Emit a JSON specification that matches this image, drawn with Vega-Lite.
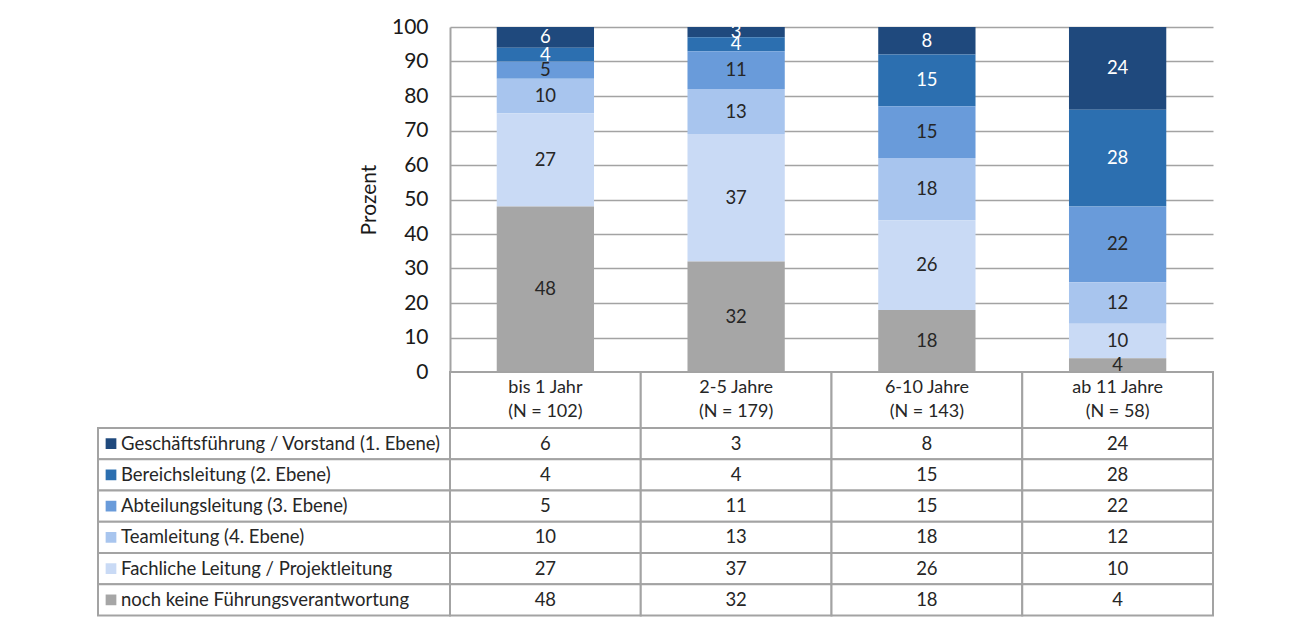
{
  "$schema": "https://vega.github.io/schema/vega-lite/v6.json",
  "padding": {"left": 97, "top": 16, "right": 5, "bottom": 2},
  "background": "white",
  "datasets": {
    "gruppen": [
      {"Gruppe": "bis 1 Jahr", "N": 102},
      {"Gruppe": "2-5 Jahre", "N": 179},
      {"Gruppe": "6-10 Jahre", "N": 143},
      {"Gruppe": "ab 11 Jahre", "N": 58}
    ],
    "ebenen": [
      {"Ebene": "Geschäftsführung / Vorstand (1. Ebene)", "Stufe": 1},
      {"Ebene": "Bereichsleitung (2. Ebene)", "Stufe": 2},
      {"Ebene": "Abteilungsleitung (3. Ebene)", "Stufe": 3},
      {"Ebene": "Teamleitung (4. Ebene)", "Stufe": 4},
      {"Ebene": "Fachliche Leitung / Projektleitung", "Stufe": 5},
      {"Ebene": "noch keine Führungsverantwortung", "Stufe": 6}
    ],
    "werte": [
      {"Gruppe": "bis 1 Jahr", "Ebene": "Geschäftsführung / Vorstand (1. Ebene)", "Stufe": 1, "Prozent": 6},
      {"Gruppe": "bis 1 Jahr", "Ebene": "Bereichsleitung (2. Ebene)", "Stufe": 2, "Prozent": 4},
      {"Gruppe": "bis 1 Jahr", "Ebene": "Abteilungsleitung (3. Ebene)", "Stufe": 3, "Prozent": 5},
      {"Gruppe": "bis 1 Jahr", "Ebene": "Teamleitung (4. Ebene)", "Stufe": 4, "Prozent": 10},
      {"Gruppe": "bis 1 Jahr", "Ebene": "Fachliche Leitung / Projektleitung", "Stufe": 5, "Prozent": 27},
      {"Gruppe": "bis 1 Jahr", "Ebene": "noch keine Führungsverantwortung", "Stufe": 6, "Prozent": 48},
      {"Gruppe": "2-5 Jahre", "Ebene": "Geschäftsführung / Vorstand (1. Ebene)", "Stufe": 1, "Prozent": 3},
      {"Gruppe": "2-5 Jahre", "Ebene": "Bereichsleitung (2. Ebene)", "Stufe": 2, "Prozent": 4},
      {"Gruppe": "2-5 Jahre", "Ebene": "Abteilungsleitung (3. Ebene)", "Stufe": 3, "Prozent": 11},
      {"Gruppe": "2-5 Jahre", "Ebene": "Teamleitung (4. Ebene)", "Stufe": 4, "Prozent": 13},
      {"Gruppe": "2-5 Jahre", "Ebene": "Fachliche Leitung / Projektleitung", "Stufe": 5, "Prozent": 37},
      {"Gruppe": "2-5 Jahre", "Ebene": "noch keine Führungsverantwortung", "Stufe": 6, "Prozent": 32},
      {"Gruppe": "6-10 Jahre", "Ebene": "Geschäftsführung / Vorstand (1. Ebene)", "Stufe": 1, "Prozent": 8},
      {"Gruppe": "6-10 Jahre", "Ebene": "Bereichsleitung (2. Ebene)", "Stufe": 2, "Prozent": 15},
      {"Gruppe": "6-10 Jahre", "Ebene": "Abteilungsleitung (3. Ebene)", "Stufe": 3, "Prozent": 15},
      {"Gruppe": "6-10 Jahre", "Ebene": "Teamleitung (4. Ebene)", "Stufe": 4, "Prozent": 18},
      {"Gruppe": "6-10 Jahre", "Ebene": "Fachliche Leitung / Projektleitung", "Stufe": 5, "Prozent": 26},
      {"Gruppe": "6-10 Jahre", "Ebene": "noch keine Führungsverantwortung", "Stufe": 6, "Prozent": 18},
      {"Gruppe": "ab 11 Jahre", "Ebene": "Geschäftsführung / Vorstand (1. Ebene)", "Stufe": 1, "Prozent": 24},
      {"Gruppe": "ab 11 Jahre", "Ebene": "Bereichsleitung (2. Ebene)", "Stufe": 2, "Prozent": 28},
      {"Gruppe": "ab 11 Jahre", "Ebene": "Abteilungsleitung (3. Ebene)", "Stufe": 3, "Prozent": 22},
      {"Gruppe": "ab 11 Jahre", "Ebene": "Teamleitung (4. Ebene)", "Stufe": 4, "Prozent": 12},
      {"Gruppe": "ab 11 Jahre", "Ebene": "Fachliche Leitung / Projektleitung", "Stufe": 5, "Prozent": 10},
      {"Gruppe": "ab 11 Jahre", "Ebene": "noch keine Führungsverantwortung", "Stufe": 6, "Prozent": 4}
    ]
  },
  "columns": 2,
  "spacing": 0,
  "bounds": "flush",
  "concat": [
    {
      "width": 352,
      "height": 345,
      "data": {"values": [{}]},
      "mark": {"type": "text"},
      "encoding": {"text": {"value": ""}}
    },
    {
      "width": 763,
      "height": 345,
      "data": {"name": "werte"},
      "transform": [
        {"stack": "Prozent", "groupby": ["Gruppe"], "sort": [{"field": "Stufe", "order": "descending"}], "as": ["unten", "oben"]},
        {"calculate": "(datum.unten + datum.oben) / 2", "as": "mitte"}
      ],
      "layer": [
        {
          "mark": {"type": "bar"},
          "encoding": {
            "x": {"field": "Gruppe", "type": "nominal", "sort": ["bis 1 Jahr", "2-5 Jahre", "6-10 Jahre", "ab 11 Jahre"], "scale": {"paddingInner": 0.49, "paddingOuter": 0.245}, "axis": null},
            "y": {
              "field": "oben", "type": "quantitative",
              "scale": {"domain": [0, 100], "nice": false},
              "axis": {
                "title": "Prozent",
                "values": [0, 10, 20, 30, 40, 50, 60, 70, 80, 90, 100],
                "tickCount": 11,
                "labelOverlap": false,
                "grid": true, "gridColor": "#a3a3a3", "gridWidth": 1.5,
                "ticks": false,
                "domainColor": "#a3a3a3", "domainWidth": 2,
                "labelFontSize": 21, "labelColor": "#1a1a1a", "labelPadding": 22,
                "titleFontSize": 21, "titleFontWeight": "normal", "titleColor": "#1a1a1a", "titlePadding": 12
              }
            },
            "y2": {"field": "unten"},
            "color": {
              "field": "Ebene", "type": "nominal",
              "scale": {
                "domain": ["Geschäftsführung / Vorstand (1. Ebene)", "Bereichsleitung (2. Ebene)", "Abteilungsleitung (3. Ebene)", "Teamleitung (4. Ebene)", "Fachliche Leitung / Projektleitung", "noch keine Führungsverantwortung"],
                "range": ["#1f497d", "#2c6fb0", "#699bda", "#a8c5ee", "#c9daf5", "#a6a6a6"]
              },
              "legend": null
            }
          }
        },
        {
          "mark": {"type": "text", "fontSize": 18.5, "baseline": "middle"},
          "encoding": {
            "x": {"field": "Gruppe", "type": "nominal", "sort": ["bis 1 Jahr", "2-5 Jahre", "6-10 Jahre", "ab 11 Jahre"]},
            "y": {
              "field": "mitte", "type": "quantitative",
              "axis": {
                "title": "Prozent",
                "values": [0, 10, 20, 30, 40, 50, 60, 70, 80, 90, 100],
                "tickCount": 11,
                "labelOverlap": false,
                "grid": true, "gridColor": "#a3a3a3", "gridWidth": 1.5,
                "ticks": false,
                "domainColor": "#a3a3a3", "domainWidth": 2,
                "labelFontSize": 21, "labelColor": "#1a1a1a", "labelPadding": 22,
                "titleFontSize": 21, "titleFontWeight": "normal", "titleColor": "#1a1a1a", "titlePadding": 12
              }
            },
            "text": {"field": "Prozent", "type": "quantitative"},
            "color": {"condition": {"test": "datum.Stufe <= 2", "value": "#ffffff"}, "value": "#262626"}
          }
        }
      ]
    },
    {
      "width": 352,
      "height": 56,
      "data": {"values": [{}]},
      "mark": {"type": "text"},
      "encoding": {"text": {"value": ""}}
    },
    {
      "width": 763,
      "height": 56,
      "data": {"name": "gruppen"},
      "transform": [{"calculate": "'(N = ' + datum.N + ')'", "as": "NText"}],
      "encoding": {
        "x": {"field": "Gruppe", "type": "nominal", "sort": ["bis 1 Jahr", "2-5 Jahre", "6-10 Jahre", "ab 11 Jahre"], "scale": {"padding": 0}, "axis": null}
      },
      "layer": [
        {
          "mark": {"type": "rect", "fill": "#ffffff", "stroke": "#a3a3a3", "strokeWidth": 2},
          "encoding": {
            "y": {"datum": 0, "type": "quantitative", "scale": {"domain": [0, 1]}, "axis": null},
            "y2": {"datum": 1}
          }
        },
        {
          "mark": {"type": "text", "fontSize": 18, "color": "#262626", "dy": -12},
          "encoding": {
            "y": {"datum": 0.5, "type": "quantitative"},
            "text": {"field": "Gruppe"}
          }
        },
        {
          "mark": {"type": "text", "fontSize": 18, "color": "#262626", "dy": 11.5},
          "encoding": {
            "y": {"datum": 0.5, "type": "quantitative"},
            "text": {"field": "NText"}
          }
        }
      ]
    },
    {
      "width": 352,
      "height": 187.5,
      "data": {"name": "ebenen"},
      "encoding": {
        "y": {"field": "Ebene", "type": "nominal", "sort": {"field": "Stufe", "order": "ascending"}, "scale": {"padding": 0}, "axis": null}
      },
      "layer": [
        {
          "mark": {"type": "rect", "fill": "#ffffff", "stroke": "#a3a3a3", "strokeWidth": 2},
          "encoding": {
            "x": {"datum": 0, "type": "quantitative", "scale": {"domain": [0, 1]}, "axis": null},
            "x2": {"datum": 1}
          }
        },
        {
          "mark": {"type": "point", "shape": "square", "filled": true, "opacity": 1, "size": 115, "xOffset": 13},
          "encoding": {
            "x": {"datum": 0, "type": "quantitative"},
            "color": {
              "field": "Ebene", "type": "nominal",
              "scale": {
                "domain": ["Geschäftsführung / Vorstand (1. Ebene)", "Bereichsleitung (2. Ebene)", "Abteilungsleitung (3. Ebene)", "Teamleitung (4. Ebene)", "Fachliche Leitung / Projektleitung", "noch keine Führungsverantwortung"],
                "range": ["#1f497d", "#2c6fb0", "#699bda", "#a8c5ee", "#c9daf5", "#a6a6a6"]
              },
              "legend": null
            }
          }
        },
        {
          "mark": {"type": "text", "fontSize": 18.5, "color": "#262626", "align": "left", "dx": 23},
          "encoding": {
            "x": {"datum": 0, "type": "quantitative"},
            "text": {"field": "Ebene"}
          }
        }
      ]
    },
    {
      "width": 763,
      "height": 187.5,
      "data": {"name": "werte"},
      "encoding": {
        "x": {"field": "Gruppe", "type": "nominal", "sort": ["bis 1 Jahr", "2-5 Jahre", "6-10 Jahre", "ab 11 Jahre"], "scale": {"padding": 0}, "axis": null},
        "y": {"field": "Ebene", "type": "nominal", "sort": {"field": "Stufe", "order": "ascending"}, "scale": {"padding": 0}, "axis": null}
      },
      "layer": [
        {
          "mark": {"type": "rect", "fill": "#ffffff", "stroke": "#a3a3a3", "strokeWidth": 2}
        },
        {
          "mark": {"type": "text", "fontSize": 18.5, "color": "#262626"},
          "encoding": {"text": {"field": "Prozent", "type": "quantitative"}}
        }
      ]
    }
  ],
  "config": {
    "font": "Lato",
    "view": {"stroke": null},
    "axis": {"labelFont": "Lato", "titleFont": "Lato"}
  }
}
